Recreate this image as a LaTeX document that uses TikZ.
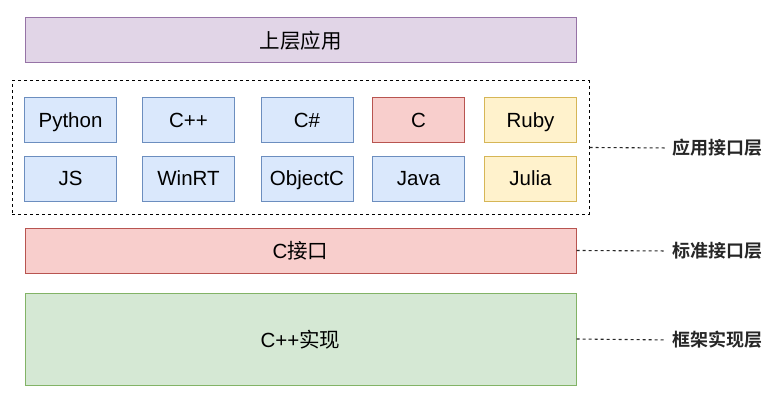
\documentclass[tikz,border=0pt]{standalone}
\usepackage{fontspec}
\setmainfont{Liberation Sans}
\newfontfamily\cjk[BoldFont=Noto Sans CJK SC Bold]{Noto Sans CJK SC}
\usetikzlibrary{positioning}
\definecolor{blueF}{HTML}{DAE8FC}\definecolor{blueD}{HTML}{6C8EBF}
\definecolor{redF}{HTML}{F8CECC}\definecolor{redD}{HTML}{B85450}
\definecolor{yelF}{HTML}{FFF2CC}\definecolor{yelD}{HTML}{D6B656}
\definecolor{grnF}{HTML}{D5E8D4}\definecolor{grnD}{HTML}{82B366}
\definecolor{purF}{HTML}{E1D5E7}\definecolor{purD}{HTML}{9673A6}
\begin{document}
\begin{tikzpicture}[x=1pt, y=-1pt, font=\fontsize{20.5}{24}\selectfont,
  box/.style={draw, line width=1pt, inner sep=0pt, minimum height=45pt,
              text height=14.7pt, text depth=0pt},
  lang/.style={box, minimum width=92pt},
  blue/.style={fill=blueF, draw=blueD},
  red/.style={fill=redF, draw=redD},
  yel/.style={fill=yelF, draw=yelD},
  layer/.style={box, minimum width=551pt, text height=16pt},
  tag/.style={anchor=west, inner sep=0pt, font=\cjk\bfseries\fontsize{18}{22}\selectfont, text=black!85},
  link/.style={draw=black!85, line width=1.1pt, dash pattern=on 3pt off 3pt, shorten >=6pt}]

  \useasboundingbox (0,0) rectangle (773,401);

  % upper application layer
  \node[layer, fill=purF, draw=purD] (app) at (300.5,40.5) {\cjk 上层应用};

  % language bindings
  \node[draw, line width=1pt, dash pattern=on 3pt off 3pt, minimum width=577pt,
        minimum height=133pt, inner sep=0pt] (langs) at (300.5,147.5) {};
  \node[lang, blue] (python) at (70.5,120) {Python};
  \node[lang, blue] (cpp)    at (188.5,120) {C++};
  \node[lang, blue] (csharp) at (307,120) {C\#};
  \node[lang, red]  (c)      at (418.5,120) {C};
  \node[lang, yel]  (ruby)   at (530.5,120) {Ruby};
  \node[lang, blue] (js)     at (70.5,178.5) {JS};
  \node[lang, blue] (winrt)  at (188.5,178.5) {WinRT};
  \node[lang, blue] (objc)   at (307,178.5) {ObjectC};
  \node[lang, blue] (java)   at (418.5,178.5) {Java};
  \node[lang, yel]  (julia)  at (530.5,178.5) {Julia};

  % C interface and implementation
  \node[layer, red] (capi) at (300.5,250.5) {C{\cjk 接口}};
  \node[layer, fill=grnF, draw=grnD, minimum height=92pt] (impl) at (300.5,339) {C++{\cjk 实现}};

  % layer names
  \node[tag] (lapi)  at (672,148) {应用接口层};
  \node[tag] (lstd)  at (672,251) {标准接口层};
  \node[tag] (limpl) at (672,340) {框架实现层};
  \draw[link] (langs.east) -- (lapi.west);
  \draw[link] (capi.east) -- (lstd.west);
  \draw[link] (impl.east) -- (limpl.west);
\end{tikzpicture}
\end{document}
